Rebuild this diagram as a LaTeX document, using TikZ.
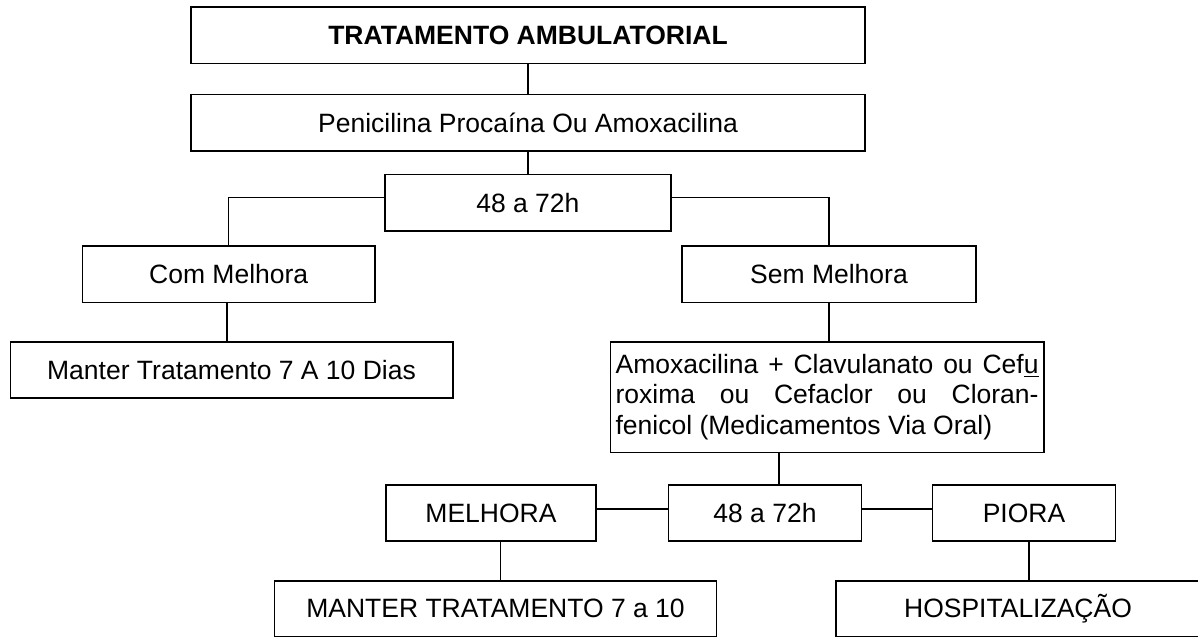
\documentclass[tikz,border=0pt]{standalone}
\usepackage{fontspec}
\setmainfont{Liberation Sans}
\tolerance=9999
\hyphenpenalty=10000

\def\boxlw{0.8pt}
\def\linklw{0.75pt}
\newcommand{\flowfont}{\fontsize{13.25pt}{15.25pt}\selectfont}

\tikzset{
  flowbox/.style={
    draw=black,
    line width=\boxlw,
    inner sep=0pt,
    minimum height=28pt,
    align=center,
    font=\flowfont
  },
  flowpara/.style={
    flowbox,
    align=justify,
    inner xsep=2.65pt,
    inner ysep=0pt
  },
  flowlink/.style={
    draw=black,
    line width=\linklw
  }
}

\begin{document}
\begin{tikzpicture}[x=0.5pt, y=-0.5pt]

  \useasboundingbox (0,0) rectangle (1198,638);

  % --------------------------------------------------------------------
  % First treatment
  % --------------------------------------------------------------------

  \node[flowbox, minimum width=337pt, minimum height=28.3pt, font=\flowfont\bfseries]
    (topbox) at (528,35) {TRATAMENTO AMBULATORIAL};

  \node[flowbox, minimum width=337pt, minimum height=28.35pt]
    (peni) at (528,122.7) {Penicilina Procaína Ou Amoxacilina};

  \node[flowbox, minimum width=142.9pt, minimum height=28.15pt]
    (evalA) at (527.9,202.8) {48 a 72h};

  \node[flowbox, minimum width=146.35pt, minimum height=28.3pt]
    (com) at (228.7,274) {Com Melhora};

  \node[flowbox, minimum width=146.75pt, minimum height=28.3pt]
    (sem) at (829,274) {Sem Melhora};

  \node[flowbox, minimum width=221.2pt]
    (keepA) at (231.5,369.7) {Manter Tratamento 7 A 10 Dias};

  % --------------------------------------------------------------------
  % Second treatment
  % --------------------------------------------------------------------

  \node[flowpara, text width=211.5pt, minimum height=55.3pt]
    (amox) at (827.1,397)
    {Amoxacilina + Clavulanato ou Cef\underline{u}\linebreak
     roxima ou Cefaclor ou Cloran-\linebreak
     fenicol (Medicamentos Via Oral)};

  \node[flowbox, minimum width=105.25pt]
    (melhora) at (491,513) {MELHORA};

  \node[flowbox, minimum width=96.45pt]
    (evalB) at (765,513) {48 a 72h};

  \node[flowbox, minimum width=91.5pt]
    (piora) at (1024,513) {PIORA};

  \node[flowbox, minimum width=221.15pt, minimum height=27.85pt]
    (keepB) at (495.5,608.8) {MANTER TRATAMENTO 7 a 10};

  \node[flowbox, minimum width=182pt, minimum height=27.85pt]
    (hosp) at (1018,608.8) {HOSPITALIZAÇÃO};

  % --------------------------------------------------------------------
  % Connectors
  % --------------------------------------------------------------------

  \draw[flowlink] (topbox.south) -- (peni.north);
  \draw[flowlink] (peni.south) -- (peni.south |- evalA.north);
  \draw[flowlink] ([yshift=2.75pt]evalA.west) -| (com.north);
  \draw[flowlink] ([yshift=2.75pt]evalA.east) -| (sem.north);
  \draw[flowlink] ([xshift=-0.85pt]com.south) -- ([xshift=-0.85pt]com.south |- keepA.north);
  \draw[flowlink] (sem.south) -- (sem.south |- amox.north);

  \draw[flowlink] ([xshift=7.05pt]evalB.north |- amox.south) -- ([xshift=7.05pt]evalB.north);
  \draw[flowlink] ([yshift=2pt]evalB.west) -- ([yshift=2pt]evalB.west -| melhora.east);
  \draw[flowlink] ([yshift=2pt]evalB.east) -- ([yshift=2pt]evalB.east -| piora.west);
  \draw[flowlink] ([xshift=4.8pt]melhora.south) -- ([xshift=4.8pt]melhora.south |- keepB.north);
  \draw[flowlink] ([xshift=2.5pt]piora.south) -- ([xshift=2.5pt]piora.south |- hosp.north);

\end{tikzpicture}
\end{document}
